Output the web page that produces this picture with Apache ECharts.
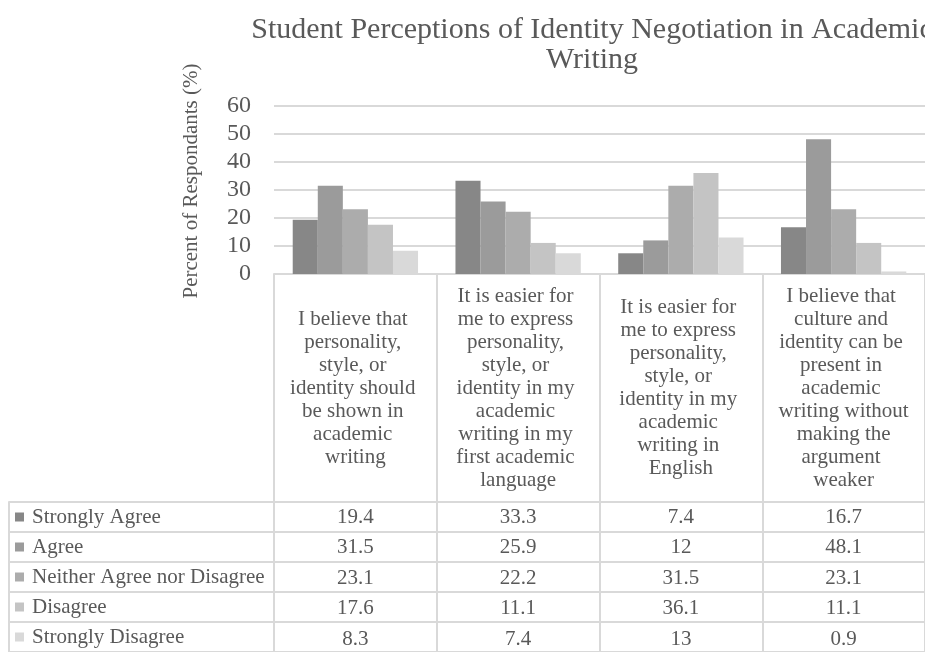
<!DOCTYPE html>
<html>
<head>
<meta charset="utf-8">
<title>Student Perceptions of Identity Negotiation in Academic Writing</title>
<script src="https://cdn.jsdelivr.net/npm/echarts@6/dist/echarts.min.js"></script>
<style>
  html, body { margin: 0; padding: 0; background: #fff; }
  #chart { width: 925px; height: 652px; }
</style>
</head>
<body>
<div id="chart"></div>
<script>
// survey statements (one column per statement)
const categories = [
  'I believe that personality, style, or identity should be shown in academic writing',
  'It is easier for me to express personality, style, or identity in my academic writing in my first academic language',
  'It is easier for me to express personality, style, or identity in my academic writing in English',
  'I believe that culture and identity can be present in academic writing without making the argument weaker'
]
const seriesNames = ['Strongly Agree', 'Agree', 'Neither Agree nor Disagree', 'Disagree', 'Strongly Disagree']

// percent of respondants
const stronglyAgree = [19.4, 33.3, 7.4, 16.7]
const agree = [31.5, 25.9, 12, 48.1]
const neither = [23.1, 22.2, 31.5, 23.1]
const disagree = [17.6, 11.1, 36.1, 11.1]
const stronglyDisagree = [8.3, 7.4, 13, 0.9]
const seriesData = [stronglyAgree, agree, neither, disagree, stronglyDisagree]

const yMin = 0
const yMax = 60
const yStep = 10

const colors = ['#878787', '#9b9b9b', '#acacac', '#c4c4c4', '#d9d9d9']
const font = 'Liberation Serif'
const textColor = '#595959'
const lineColor = '#d9d9d9'
const headerHeight = 228
const rowHeight = 30.5

const chart = echarts.init(document.getElementById('chart'), null, { renderer: 'canvas' })

// legend keys in the data table
const rich = { gap: { width: 8 }, t: { fontFamily: font, fontSize: 21, color: textColor } }
colors.forEach((c, i) => {
  rich['k' + i] = { width: 9, height: 9, backgroundColor: c }
})

// one hidden-line axis per table row, sitting under the header cells
const rowAxes = seriesData.map((row, i) => ({
  type: 'category',
  gridIndex: 0,
  position: 'bottom',
  offset: headerHeight + rowHeight * i,
  data: row.map(String),
  axisLine: { show: false },
  axisTick: { show: false },
  splitLine: { show: false },
  axisLabel: {
    interval: 0,
    margin: rowHeight / 2,
    verticalAlign: 'middle',
    fontFamily: font,
    fontSize: 21,
    color: textColor
  }
}))

chart.setOption({
  animation: false,
  backgroundColor: '#fff',
  title: {
    text: 'Student Perceptions of Identity Negotiation in Academic\nWriting',
    left: 592,
    top: 15,
    padding: 0,
    textAlign: 'center',
    textStyle: { fontFamily: font, fontSize: 30, fontWeight: 'normal', color: textColor, lineHeight: 30 }
  },
  grid: [
    { left: 274, right: -2, top: 106, height: 168 },
    { left: 9, right: -2, top: 502, height: rowHeight * 5 }
  ],
  xAxis: [
    {
      type: 'category',
      gridIndex: 0,
      position: 'bottom',
      data: categories,
      axisLine: { lineStyle: { color: lineColor, width: 2 } },
      axisTick: {
        show: true,
        interval: 0,
        length: headerHeight + rowHeight * 5,
        lineStyle: { color: lineColor, width: 2 }
      },
      axisLabel: {
        interval: 0,
        width: 133,
        overflow: 'break',
        margin: headerHeight / 2,
        verticalAlign: 'middle',
        fontFamily: font,
        fontSize: 21,
        lineHeight: 23,
        color: textColor
      }
    },
    ...rowAxes,
    { type: 'value', gridIndex: 1, show: false }
  ],
  yAxis: [
    {
      type: 'value',
      gridIndex: 0,
      min: yMin,
      max: yMax,
      interval: yStep,
      name: 'Percent of Respondants (%)',
      nameLocation: 'middle',
      nameGap: 72,
      nameTextStyle: { fontFamily: font, fontSize: 21, color: textColor, padding: [0, 0, 0, 18] },
      axisLine: { show: false },
      axisTick: { show: false },
      splitLine: { lineStyle: { color: lineColor, width: 2 } },
      axisLabel: { margin: 23, fontFamily: font, fontSize: 24, color: textColor }
    },
    {
      // left column of the data table
      type: 'category',
      gridIndex: 1,
      inverse: true,
      data: seriesNames,
      axisLine: { show: true, lineStyle: { color: lineColor, width: 2 } },
      axisTick: { show: false },
      splitLine: { show: true, interval: 0, lineStyle: { color: lineColor, width: 2 } },
      axisLabel: {
        inside: true,
        interval: 0,
        margin: 6,
        formatter: (value, index) => '{k' + index + '|}{gap|}{t|' + value + '}',
        rich: rich
      }
    }
  ],
  series: seriesNames.map((name, i) => ({
    name: name,
    type: 'bar',
    xAxisIndex: 0,
    yAxisIndex: 0,
    data: seriesData[i],
    barGap: '0%',
    barCategoryGap: '23%',
    itemStyle: { color: colors[i] }
  }))
})
</script>
</body>
</html>
